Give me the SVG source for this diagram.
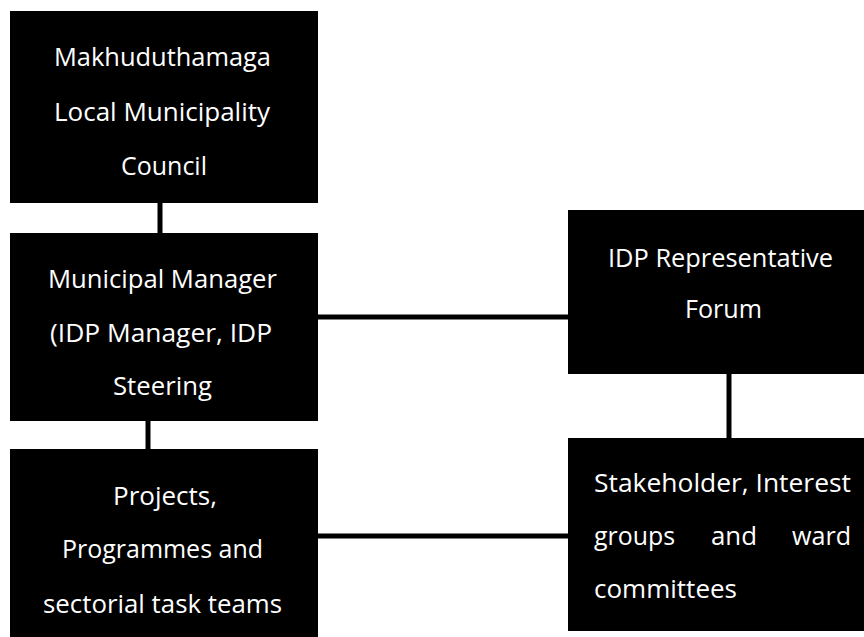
<svg xmlns="http://www.w3.org/2000/svg" width="864" height="637" viewBox="0 0 864 637">
<style>
.box{fill:#000}
.t{fill:#fff;font-family:"Open Sans","Liberation Sans",sans-serif;font-size:25px}
.c{text-anchor:middle}
.ln{stroke:#000;stroke-width:5;fill:none}
</style>
<rect width="864" height="637" fill="#fff"/>
<g id="connectors">
<line class="ln" x1="160" y1="203" x2="160" y2="233"/>
<line class="ln" x1="148" y1="421" x2="148" y2="450"/>
<line class="ln" x1="318" y1="317" x2="568" y2="317"/>
<line class="ln" x1="318" y1="536" x2="568" y2="536"/>
<line class="ln" x1="729" y1="374" x2="729" y2="438"/>
</g>
<g id="council">
<rect class="box" x="10" y="11" width="308" height="192"/>
<text class="t c" x="162.5" y="66" textLength="217" lengthAdjust="spacingAndGlyphs">Makhuduthamaga</text>
<text class="t c" x="162" y="121" textLength="216" lengthAdjust="spacingAndGlyphs">Local Municipality</text>
<text class="t c" x="164" y="175" textLength="86" lengthAdjust="spacingAndGlyphs">Council</text>
</g>
<g id="manager">
<rect class="box" x="10" y="233" width="308" height="188"/>
<text class="t c" x="162.5" y="288" textLength="229" lengthAdjust="spacingAndGlyphs">Municipal Manager</text>
<text class="t c" x="161" y="342" textLength="222" lengthAdjust="spacingAndGlyphs">(IDP Manager, IDP</text>
<text class="t c" x="162.5" y="395" textLength="99" lengthAdjust="spacingAndGlyphs">Steering</text>
</g>
<g id="projects">
<rect class="box" x="10" y="449" width="308" height="188"/>
<text class="t c" x="165" y="505" textLength="104" lengthAdjust="spacingAndGlyphs">Projects,</text>
<text class="t c" x="162.5" y="558" textLength="201" lengthAdjust="spacingAndGlyphs">Programmes and</text>
<text class="t c" x="162.5" y="613" textLength="239" lengthAdjust="spacingAndGlyphs">sectorial task teams</text>
</g>
<g id="forum">
<rect class="box" x="568" y="210" width="296" height="164"/>
<text class="t c" x="720.5" y="267" textLength="225" lengthAdjust="spacingAndGlyphs">IDP Representative</text>
<text class="t c" x="723.5" y="318" textLength="77" lengthAdjust="spacingAndGlyphs">Forum</text>
</g>
<g id="stakeholders">
<rect class="box" x="568" y="438" width="296" height="193"/>
<text class="t" x="594" y="492" textLength="257" lengthAdjust="spacingAndGlyphs">Stakeholder, Interest</text>
<text class="t" x="594" y="545" textLength="81" lengthAdjust="spacingAndGlyphs">groups</text>
<text class="t" x="711" y="545" textLength="46" lengthAdjust="spacingAndGlyphs">and</text>
<text class="t" x="792" y="545" textLength="59" lengthAdjust="spacingAndGlyphs">ward</text>
<text class="t" x="594" y="598" textLength="143" lengthAdjust="spacingAndGlyphs">committees</text>
</g>
</svg>
